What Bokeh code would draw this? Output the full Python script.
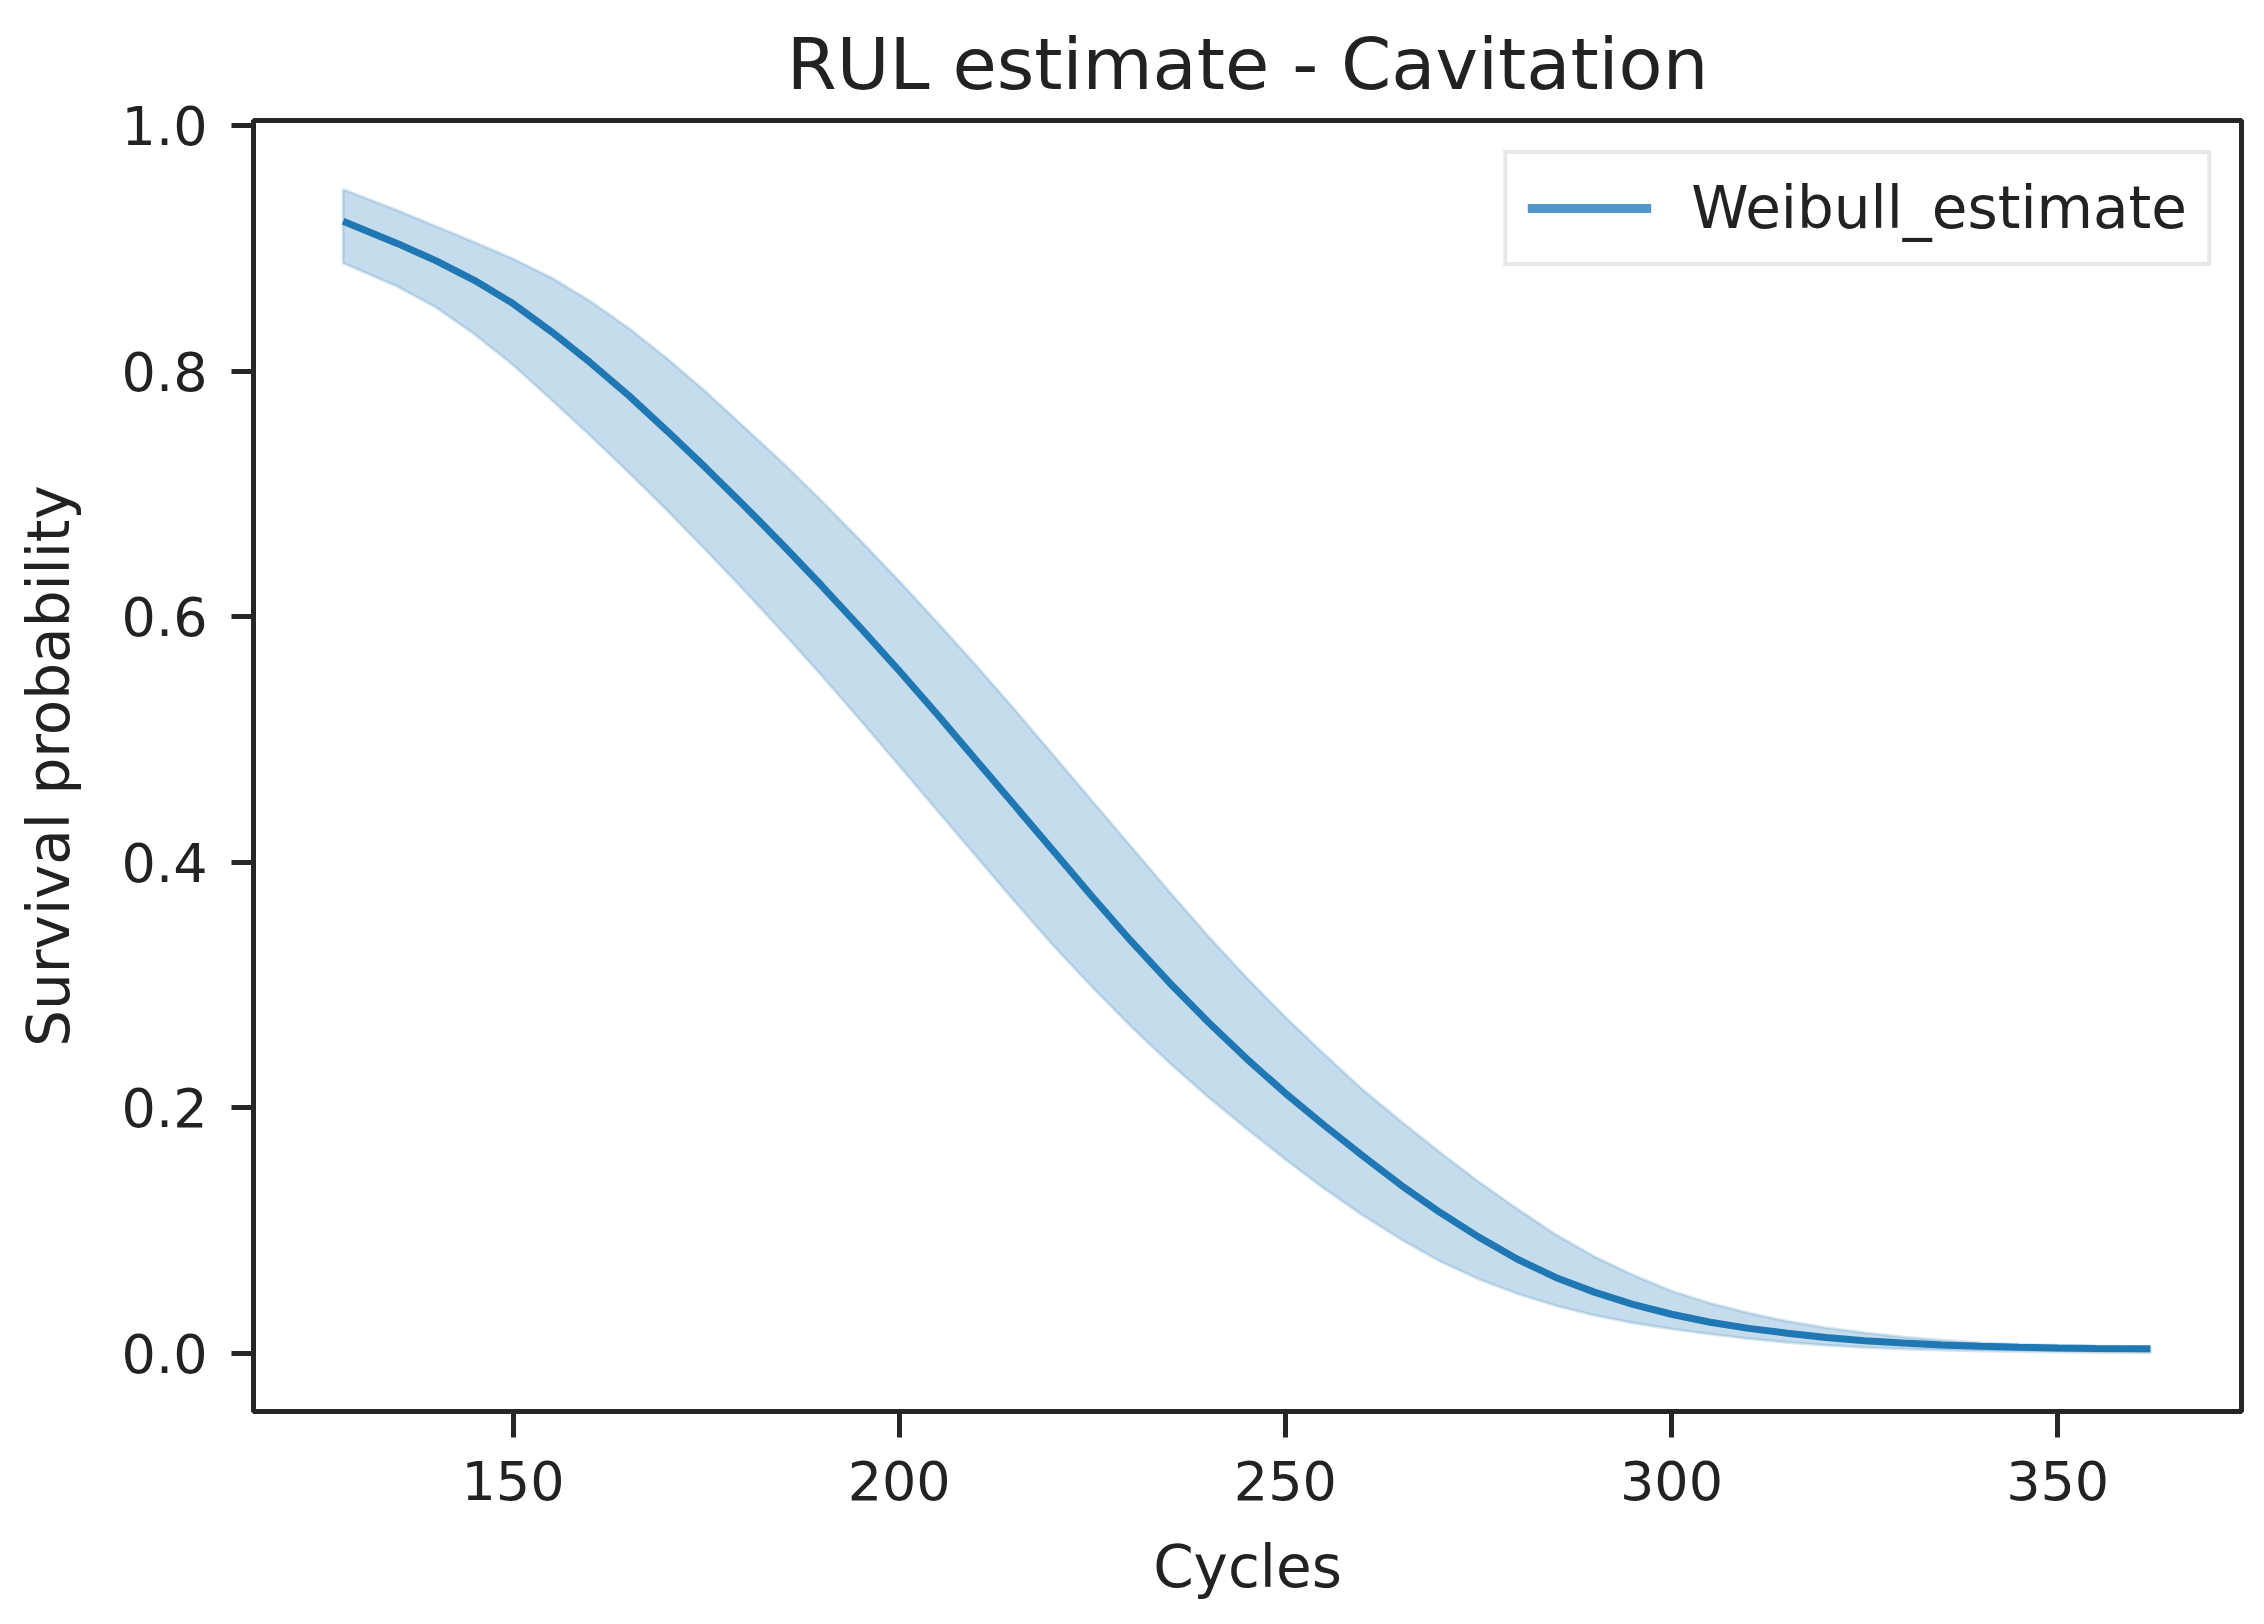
from bokeh.plotting import figure
from bokeh.models import Range1d, FixedTicker, NumeralTickFormatter, Legend, LegendItem
from bokeh.embed import file_html
from bokeh.resources import INLINE

# ---- data ----
cycles = [128, 135, 140, 145, 150, 155, 160, 165, 170, 175, 180, 185, 190, 195,
          200, 205, 210, 215, 220, 225, 230, 235, 240, 245, 250, 255, 260, 265,
          270, 275, 280, 285, 290, 295, 300, 305, 310, 315, 320, 325, 330, 335,
          340, 345, 350, 355, 362]
survival = [0.922, 0.904, 0.890, 0.874, 0.855, 0.832, 0.807, 0.780, 0.751, 0.721,
            0.690, 0.658, 0.625, 0.591, 0.556, 0.520, 0.483, 0.446, 0.409, 0.372,
            0.336, 0.302, 0.270, 0.240, 0.212, 0.186, 0.161, 0.137, 0.115, 0.095,
            0.077, 0.062, 0.050, 0.040, 0.032, 0.0255, 0.0205, 0.0165, 0.013,
            0.0105, 0.0085, 0.007, 0.006, 0.0052, 0.0046, 0.0042, 0.0038]
upper = [0.948, 0.931, 0.918, 0.905, 0.8915, 0.876, 0.857, 0.835, 0.810, 0.783,
         0.754, 0.725, 0.694, 0.662, 0.629, 0.595, 0.560, 0.524, 0.487, 0.450,
         0.413, 0.376, 0.340, 0.306, 0.274, 0.244, 0.215, 0.189, 0.164, 0.140,
         0.118, 0.097, 0.079, 0.064, 0.051, 0.041, 0.033, 0.0263, 0.0211, 0.017,
         0.0134, 0.0108, 0.0087, 0.0075, 0.0067, 0.0061, 0.0056]
lower = [0.888, 0.869, 0.852, 0.830, 0.805, 0.7765, 0.7474, 0.7173, 0.6862, 0.654,
         0.6209, 0.5868, 0.5517, 0.5156, 0.4786, 0.4416, 0.4046, 0.3677, 0.3319,
         0.2982, 0.2664, 0.2366, 0.2089, 0.183, 0.1581, 0.1344, 0.1126, 0.0928,
         0.0752, 0.0606, 0.0488, 0.039, 0.0312, 0.0249, 0.020, 0.0158, 0.0120,
         0.0090, 0.0068, 0.0050, 0.0037, 0.0028, 0.0021, 0.0016, 0.0012, 0.0009,
         0.0007]
x_ticks = [150, 200, 250, 300, 350]
y_ticks = [0.0, 0.2, 0.4, 0.6, 0.8, 1.0]
title_text = "RUL estimate - Cavitation"
x_label = "Cycles"
y_label = "Survival probability"
series_name = "Weibull_estimate"

FONT = "DejaVu Sans"
TXT = "#222222"
BLUE = "#1f77b4"

p = figure(width=2256, height=1616, output_backend="svg", toolbar_location=None,
           x_range=Range1d(116.4, 373.8), y_range=Range1d(-0.0472, 1.0041),
           min_border_left=253, min_border_right=15, min_border_top=120,
           min_border_bottom=205)
p.background_fill_color = "white"
p.border_fill_color = "white"
p.outline_line_color = "#262626"
p.outline_line_width = 5
p.grid.visible = False

p.title.text = title_text
p.title.text_font = FONT
p.title.text_font_size = "72px"
p.title.text_font_style = "normal"
p.title.text_color = TXT
p.title.align = "center"
p.title.standoff = 30

for ax in (p.xaxis[0], p.yaxis[0]):
    ax.axis_line_color = None
    ax.major_tick_line_color = "#262626"
    ax.major_tick_line_width = 5
    ax.minor_tick_line_color = None
    ax.major_label_text_font = FONT
    ax.major_label_text_font_size = "54px"
    ax.major_label_text_color = TXT
    ax.axis_label_text_font = FONT
    ax.axis_label_text_font_size = "58px"
    ax.axis_label_text_font_style = "normal"
    ax.axis_label_text_color = TXT

p.xaxis[0].ticker = FixedTicker(ticks=x_ticks)
p.xaxis[0].major_tick_out = 26
p.xaxis[0].major_tick_in = 0
p.xaxis[0].major_label_standoff = 23
p.xaxis[0].axis_label = x_label
p.xaxis[0].axis_label_standoff = 30

p.yaxis[0].ticker = FixedTicker(ticks=y_ticks)
p.yaxis[0].formatter = NumeralTickFormatter(format="0.0")
p.yaxis[0].major_tick_out = 22
p.yaxis[0].major_tick_in = 0
p.yaxis[0].major_label_standoff = 24
p.yaxis[0].axis_label = y_label
p.yaxis[0].axis_label_standoff = 36

# confidence band
band_x = cycles + cycles[::-1]
band_y = upper + lower[::-1]
p.patch(band_x, band_y, fill_color=BLUE, fill_alpha=0.26,
        line_color=BLUE, line_alpha=0.18, line_width=3)

line = p.line(cycles, survival, line_color=BLUE, line_width=7)

# legend-only glyph (zero-length segment, lighter as in the reference legend)
legend_line = p.line([cycles[0], cycles[0]], [survival[0], survival[0]],
                     line_color="#5096cb", line_width=9, line_cap="butt")

legend = Legend(items=[LegendItem(label=series_name, renderers=[legend_line])],
                location="top_right", margin=30, padding=20, spacing=0,
                glyph_width=124, glyph_height=60, label_standoff=40,
                label_text_font=FONT, label_text_font_size="58px",
                label_text_color=TXT, label_height=60,
                border_line_color="#d0d0d0", border_line_width=4,
                background_fill_color="white", background_fill_alpha=0.8)
p.add_layout(legend)

open("out.html", "w").write(file_html(p, INLINE))
